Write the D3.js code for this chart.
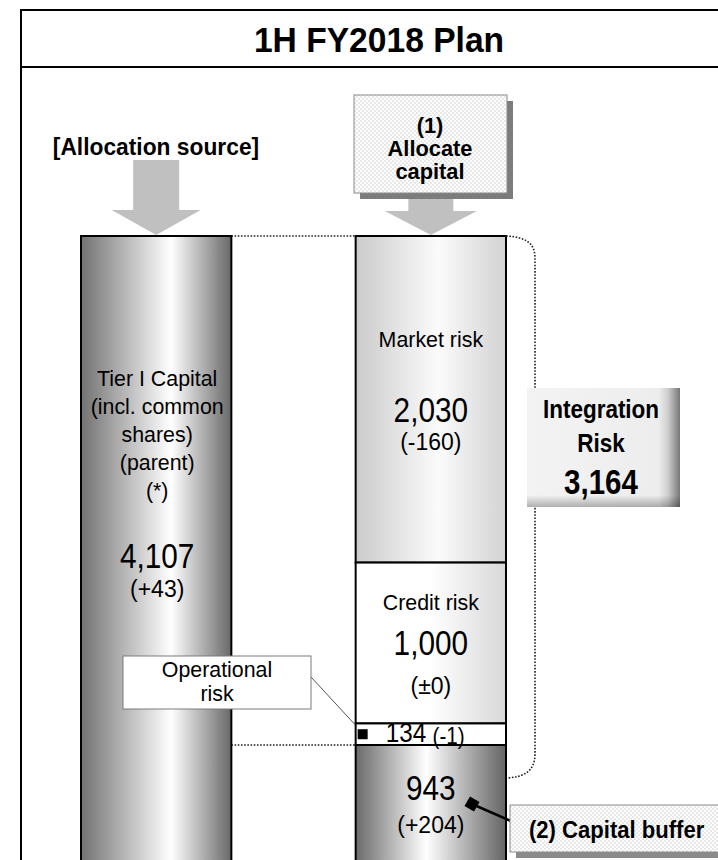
<!DOCTYPE html>
<html>
<head>
<meta charset="utf-8">
<script src="https://cdn.jsdelivr.net/npm/d3@7"></script>
<style>
  html, body { margin: 0; padding: 0; background: #fff; }
  svg { display: block; }
  text { font-family: "Liberation Sans", Arial, Helvetica, sans-serif; fill: #000; }
</style>
</head>
<body>
<div id="chart"></div>
<script>
// ---- data (100 million yen) ----
const chartTitle = "1H FY2018 Plan";
const sourceHeading = "[Allocation source]";
const sourceLines = ["Tier I Capital", "(incl. common", "shares)", "(parent)", "(*)"];
const sourceValue = 4107;
const sourceChange = 43;

const allocateLines = ["(1)", "Allocate", "capital"];
const riskNames = ["Market risk", "Credit risk", "Operational risk"];
const riskValues = [2030, 1000, 134];
const riskChanges = [-160, 0, -1];

const bufferName = "(2) Capital buffer";
const bufferValue = 943;
const bufferChange = 204;

const integrationLines = ["Integration", "Risk"];

// ---- layout ----
const W = 718, H = 860;
const FONT = '"Liberation Sans", Arial, Helvetica, sans-serif';
const fmt = d3.format(",");
const fmtChange = v => "(" + (v > 0 ? "+" + v : v < 0 ? "-" + Math.abs(v) : "\u00B10") + ")";

const integrationTotal = d3.sum(riskValues);

// one vertical scale for every stacked amount
const y = d3.scaleLinear().domain([0, integrationTotal]).range([236, 745]);

// two columns: allocation source and allocated capital
const x = d3.scaleBand().domain(["source", "allocated"]).range([81, 506]).paddingInner(0.4526).paddingOuter(0);
const colW = x.bandwidth();
const colCx = c => x(c) + colW / 2;

const svg = d3.select("#chart").append("svg").attr("width", W).attr("height", H);
const defs = svg.append("defs");

function hGrad(id, stops) {
  const g = defs.append("linearGradient").attr("id", id).attr("x1", 0).attr("x2", 1).attr("y1", 0).attr("y2", 0);
  stops.forEach(([o, c, a]) => g.append("stop").attr("offset", o).attr("stop-color", c).attr("stop-opacity", a == null ? 1 : a));
}
hGrad("gSource", [[0, "#727272"], [0.6, "#ffffff"], [1, "#686868"]]);
hGrad("gMarket", [[0, "#cbcbcb"], [0.55, "#fbfbfb"], [1, "#d2d2d2"]]);
hGrad("gCredit", [[0, "#ffffff"], [0.5, "#ffffff"], [1, "#d8d8d8"]]);
hGrad("gOper", [[0, "#ffffff"], [1, "#ffffff"]]);
hGrad("gBuffer", [[0, "#6a6a6a"], [0.47, "#ffffff"], [1, "#646464"]]);
hGrad("gIntegr", [[0, "#f3f3f3"], [0.86, "#ededed"], [0.92, "#cfcfcf"], [1, "#777777"]]);
const vg = defs.append("linearGradient").attr("id", "gIntegrBottom").attr("x1", 0).attr("x2", 0).attr("y1", 0).attr("y2", 1);
vg.append("stop").attr("offset", 0.9).attr("stop-color", "#000").attr("stop-opacity", 0);
vg.append("stop").attr("offset", 1).attr("stop-color", "#000").attr("stop-opacity", 0.28);

const dots = defs.append("pattern").attr("id", "dots").attr("width", 4).attr("height", 4).attr("patternUnits", "userSpaceOnUse");
dots.append("rect").attr("width", 4).attr("height", 4).attr("fill", "#ffffff");
dots.append("circle").attr("cx", 1).attr("cy", 1).attr("r", 0.75).attr("fill", "#c4c4c4");
dots.append("circle").attr("cx", 3).attr("cy", 3).attr("r", 0.75).attr("fill", "#c4c4c4");

function label(g, tx, ty, text, o = {}) {
  return g.append("text")
    .attr("transform", `translate(${tx},${ty}) scale(${o.sx || 1},1)`)
    .attr("text-anchor", o.anchor || "middle")
    .attr("font-size", o.size || 21.5)
    .attr("font-weight", o.weight || "normal")
    .attr("font-family", FONT)
    .text(text);
}
// plain body text is set slightly condensed
const BODY = { size: 23, sx: 0.93 };
const BIG = { size: 35, sx: 0.85 };
const CHG = { size: 23 };

// ---- frame and title ----
svg.append("path").attr("d", `M21,${H + 2}V10H${W + 2}`).attr("fill", "none").attr("stroke", "#000").attr("stroke-width", 2);
svg.append("path").attr("d", `M21,67H${W + 2}`).attr("stroke", "#000").attr("stroke-width", 2);
label(svg, 379, 52, chartTitle, { size: 35, weight: "bold", sx: 0.96 });

// ---- dotted connectors between the two columns ----
const srcRight = x("source") + colW, allocLeft = x("allocated"), allocRight = x("allocated") + colW;
[0, integrationTotal].forEach(v => {
  svg.append("line").attr("x1", srcRight).attr("x2", allocLeft).attr("y1", y(v)).attr("y2", y(v))
    .attr("stroke", "#222").attr("stroke-width", 1.6).attr("stroke-dasharray", "1.6,1.6");
});

// ---- allocation source column ----
svg.append("rect").attr("x", x("source")).attr("y", y(0)).attr("width", colW).attr("height", y(sourceValue) - y(0))
  .attr("fill", "url(#gSource)").attr("stroke", "#000").attr("stroke-width", 2);

// ---- allocated capital column: stacked risks, then buffer ----
const stack = [];
let acc = 0;
riskValues.forEach((v, i) => { stack.push({ name: riskNames[i], value: v, change: riskChanges[i], y0: acc, y1: acc + v }); acc += v; });
stack.push({ name: bufferName, value: bufferValue, change: bufferChange, y0: acc, y1: acc + bufferValue });
const fills = ["url(#gMarket)", "url(#gCredit)", "url(#gOper)", "url(#gBuffer)"];

svg.append("g").selectAll("rect").data(stack).join("rect")
  .attr("x", allocLeft).attr("y", d => y(d.y0)).attr("width", colW).attr("height", d => y(d.y1) - y(d.y0))
  .attr("fill", (d, i) => fills[i]).attr("stroke", "#000").attr("stroke-width", 2);

// ---- bracket round the integrated risk ----
const bTop = y(0), bBot = y(integrationTotal) + 33, bx = allocRight + 29;
svg.append("path")
  .attr("d", `M${allocRight},${bTop} C${bx - 8},${bTop + 1} ${bx},${bTop + 8} ${bx},${bTop + 22} V${bBot - 24} C${bx},${bBot - 6} ${bx - 12},${bBot - 1} ${allocRight + 1},${bBot}`)
  .attr("fill", "none").attr("stroke", "#222").attr("stroke-width", 1.6).attr("stroke-dasharray", "1.6,1.6");

// ---- integration risk box ----
const ib = { x: 527, y: 388, w: 153, h: 119 };
svg.append("rect").attr("x", ib.x).attr("y", ib.y).attr("width", ib.w).attr("height", ib.h).attr("fill", "url(#gIntegr)");
svg.append("rect").attr("x", ib.x).attr("y", ib.y).attr("width", ib.w).attr("height", ib.h).attr("fill", "url(#gIntegrBottom)");
const icx = 601;
label(svg, icx, 418, integrationLines[0], { size: 25, weight: "bold", sx: 0.9 });
label(svg, icx, 452, integrationLines[1], { size: 25, weight: "bold", sx: 0.9 });
label(svg, icx, 494, fmt(integrationTotal), { size: 36, weight: "bold", sx: 0.82 });

// ---- arrows ----
function downArrow(cx, top, neck, tip, shaftW, headW) {
  svg.append("path")
    .attr("d", `M${cx - shaftW / 2},${top}H${cx + shaftW / 2}V${neck}H${cx + headW / 2}L${cx},${tip}L${cx - headW / 2},${neck}H${cx - shaftW / 2}Z`)
    .attr("fill", "#c0c0c0");
}
downArrow(colCx("source"), 160, 210, y(0) - 1, 46, 89);
downArrow(colCx("allocated"), 193, 211, y(0) - 1, 45, 92);

// ---- headings ----
label(svg, 156, 155, sourceHeading, { size: 24, weight: "bold", sx: 0.95 });

svg.append("rect").attr("x", 360).attr("y", 101).attr("width", 153).attr("height", 98).attr("fill", "#7c7c7c");
svg.append("rect").attr("x", 354).attr("y", 95).attr("width", 153).attr("height", 98).attr("fill", "url(#dots)").attr("stroke", "#8a8a8a").attr("stroke-width", 1);
allocateLines.forEach((t, i) => label(svg, 430, 133 + i * 23, t, { size: 22.5, weight: "bold", sx: 0.97 }));

// ---- source column text ----
const scx = colCx("source") + 1;
sourceLines.forEach((t, i) => label(svg, scx, 386 + i * 28, t, BODY));
label(svg, scx, 568, fmt(sourceValue), BIG);
label(svg, scx, 597, fmtChange(sourceChange), CHG);

// ---- allocated column text ----
const acx = colCx("allocated");
const mk = stack[0], cr = stack[1], op = stack[2], bf = stack[3];
label(svg, acx, y(mk.y0) + 111, mk.name, BODY);
label(svg, acx, y(mk.y0) + 186, fmt(mk.value), BIG);
label(svg, acx, y(mk.y0) + 214, fmtChange(mk.change), CHG);

label(svg, acx, y(cr.y1) - 113, cr.name, BODY);
label(svg, acx, y(cr.y1) - 68, fmt(cr.value), BIG);
label(svg, acx, y(cr.y1) - 29, fmtChange(cr.change), CHG);

const opText = svg.append("text").attr("transform", `translate(${allocLeft + 30},${y(op.y1) - 3}) scale(0.9,1)`).attr("font-family", FONT);
opText.append("tspan").attr("font-size", 27).text(fmt(op.value));
opText.append("tspan").attr("font-size", 23).attr("dx", 7).attr("dy", 2).text(fmtChange(op.change));

label(svg, acx, y(bf.y0) + 55, fmt(bf.value), BIG);
label(svg, acx, y(bf.y0) + 88, fmtChange(bf.change), CHG);

// ---- operational risk callout ----
const opMid = (y(op.y0) + y(op.y1)) / 2;
svg.append("line").attr("x1", 311).attr("y1", 677).attr("x2", allocLeft - 1).attr("y2", opMid - 10)
  .attr("stroke", "#555").attr("stroke-width", 1);
svg.append("rect").attr("x", 123).attr("y", 656).attr("width", 188).attr("height", 53)
  .attr("fill", "#fff").attr("stroke", "#7a7a7a").attr("stroke-width", 1);
label(svg, 217, 677, "Operational", BODY);
label(svg, 217, 701, "risk", BODY);
svg.append("rect").attr("x", allocLeft + 2).attr("y", opMid - 5).attr("width", 10).attr("height", 10).attr("fill", "#000");

// ---- capital buffer callout ----
const bfMarkY = y(bf.y0) + 59;
svg.append("line").attr("x1", 472).attr("y1", bfMarkY).attr("x2", 511).attr("y2", bfMarkY + 17)
  .attr("stroke", "#000").attr("stroke-width", 2.5);
svg.append("rect").attr("x", -5.5).attr("y", -5.5).attr("width", 11).attr("height", 11).attr("fill", "#000")
  .attr("transform", `translate(472,${bfMarkY}) rotate(30)`);
svg.append("rect").attr("x", 516).attr("y", 811).attr("width", 240).attr("height", 47).attr("fill", "#8a8a8a");
svg.append("rect").attr("x", 510).attr("y", 805).attr("width", 240).attr("height", 47)
  .attr("fill", "url(#dots)").attr("stroke", "#8a8a8a").attr("stroke-width", 1);
label(svg, 529, 838, bufferName, { size: 24, weight: "bold", anchor: "start", sx: 0.92 });
</script>
</body>
</html>
